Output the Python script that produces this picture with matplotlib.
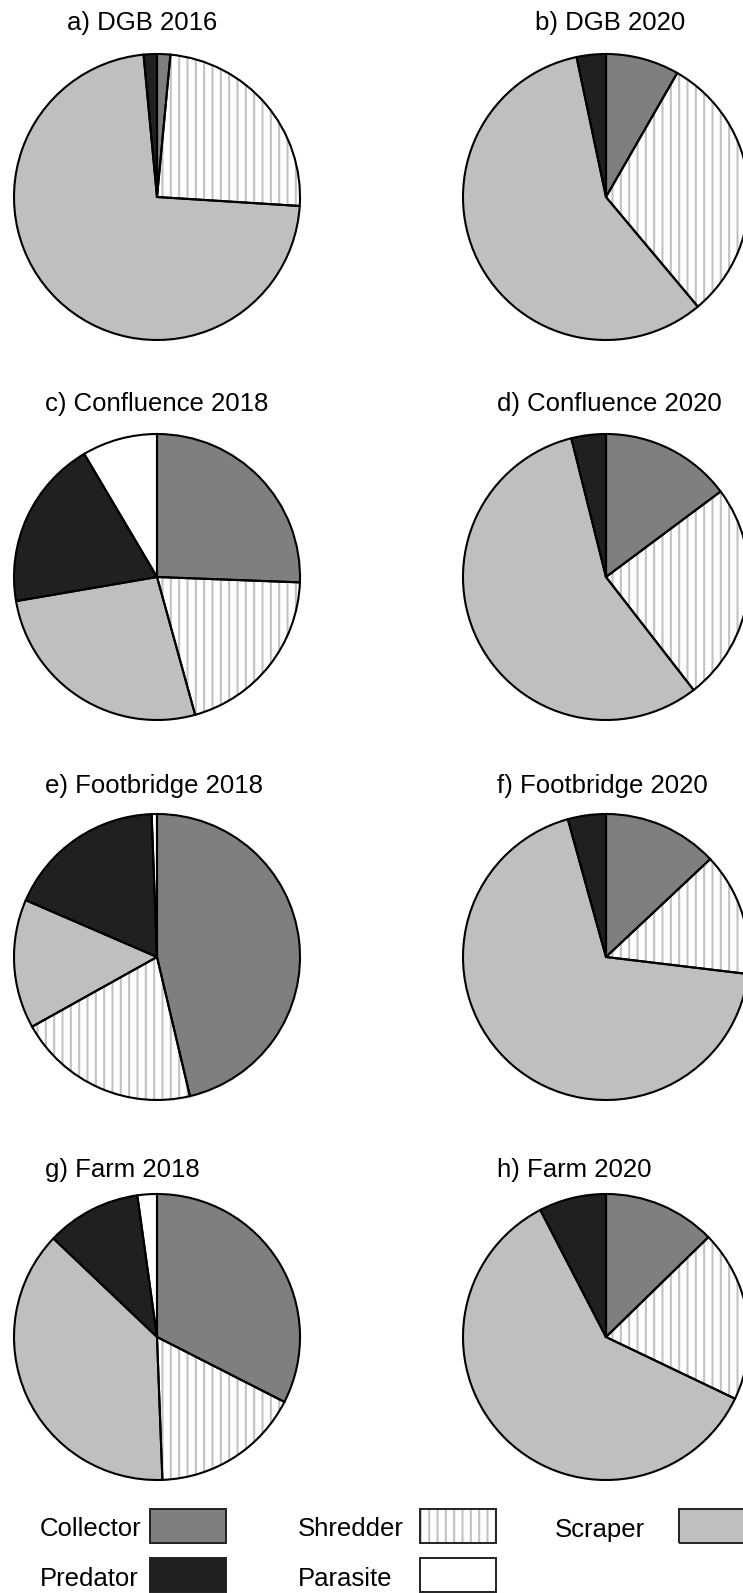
import matplotlib
matplotlib.use("Agg")
import matplotlib.pyplot as plt
from matplotlib.patches import Rectangle

plt.rcParams['font.family'] = ['Liberation Sans', 'DejaVu Sans']
plt.rcParams['hatch.linewidth'] = 1.5

# ---- data ----
categories = ["Collector", "Shredder", "Scraper", "Predator", "Parasite"]
titles = ["a) DGB 2016", "b) DGB 2020",
          "c) Confluence 2018", "d) Confluence 2020",
          "e) Footbridge 2018", "f) Footbridge 2020",
          "g) Farm 2018", "h) Farm 2020"]
dgb_2016 = [1.5, 24.5, 72.5, 1.5, 0.0]
dgb_2020 = [8.3, 30.6, 57.8, 3.3, 0.0]
confluence_2018 = [25.6, 20.1, 26.6, 19.2, 8.5]
confluence_2020 = [14.8, 24.7, 56.6, 3.9, 0.0]
footbridge_2018 = [46.3, 20.6, 14.6, 17.9, 0.6]
footbridge_2020 = [13.0, 13.9, 68.8, 4.3, 0.0]
farm_2018 = [32.5, 16.9, 37.7, 10.7, 2.2]
farm_2020 = [12.7, 19.4, 60.3, 7.6, 0.0]
series = [dgb_2016, dgb_2020, confluence_2018, confluence_2020,
          footbridge_2018, footbridge_2020, farm_2018, farm_2020]

# ---- styles ----
face_colors = ["#7f7f7f", "white", "#bfbfbf", "#202020", "white"]
hatches = ["", "||", "", "", ""]
hatch_grey = "#c2c2c2"
edge_lw = 1.5

W, H = 743, 1593
fig = plt.figure(figsize=(W / 100, H / 100), dpi=100)

R = 143.0
pad = 1.03
col_x = [157.0, 606.0]
row_y = [197.0, 577.0, 957.0, 1337.0]
title_x = [[67, 535], [45, 497], [45, 497], [45, 497]]
title_base = [30, 411.5, 793.5, 1176.5]

for i, vals in enumerate(series):
    r, c = divmod(i, 2)
    cx, cy = col_x[c], row_y[r]
    half = R * pad
    ax = fig.add_axes([(cx - half) / W, 1 - (cy + half) / H, 2 * half / W, 2 * half / H])
    # hatch / fill layer
    ax.pie(vals, colors=face_colors, hatch=hatches, startangle=90,
           counterclock=False, radius=1.0,
           wedgeprops=dict(linewidth=0, edgecolor=hatch_grey))
    # outline layer
    ax.pie(vals, startangle=90, counterclock=False, radius=1.0,
           wedgeprops=dict(fill=False, edgecolor="black", linewidth=edge_lw))
    ax.set_xlim(-pad, pad)
    ax.set_ylim(-pad, pad)
    ax.set_aspect("equal")
    ax.axis("off")
    fig.text(title_x[r][c] / W, 1 - title_base[r] / H, titles[i],
             fontsize=18.5, ha="left", va="baseline")

# ---- legend ----
leg_text_x = [40, 298, 555, 40, 298]
leg_patch_x = [150, 420, 679, 150, 420]
leg_row_y = [1509, 1509, 1509, 1558, 1558]
leg_base = [1536.5, 1536.5, 1536.5, 1585.5, 1585.5]
pw, ph = 76, 34
for k, cat in enumerate(categories):
    fig.text(leg_text_x[k] / W, 1 - leg_base[k] / H, cat,
             fontsize=18.5, ha="left", va="baseline")
    x0 = leg_patch_x[k] / W
    y0 = 1 - (leg_row_y[k] + ph) / H
    fill = Rectangle((x0, y0), pw / W, ph / H, transform=fig.transFigure,
                     facecolor=face_colors[k], hatch=hatches[k],
                     edgecolor=hatch_grey, linewidth=0)
    outline = Rectangle((x0, y0), pw / W, ph / H, transform=fig.transFigure,
                        fill=False, edgecolor="#222222", linewidth=1.4)
    fig.add_artist(fill)
    fig.add_artist(outline)

fig.savefig("out.png", dpi=100, facecolor="white")
